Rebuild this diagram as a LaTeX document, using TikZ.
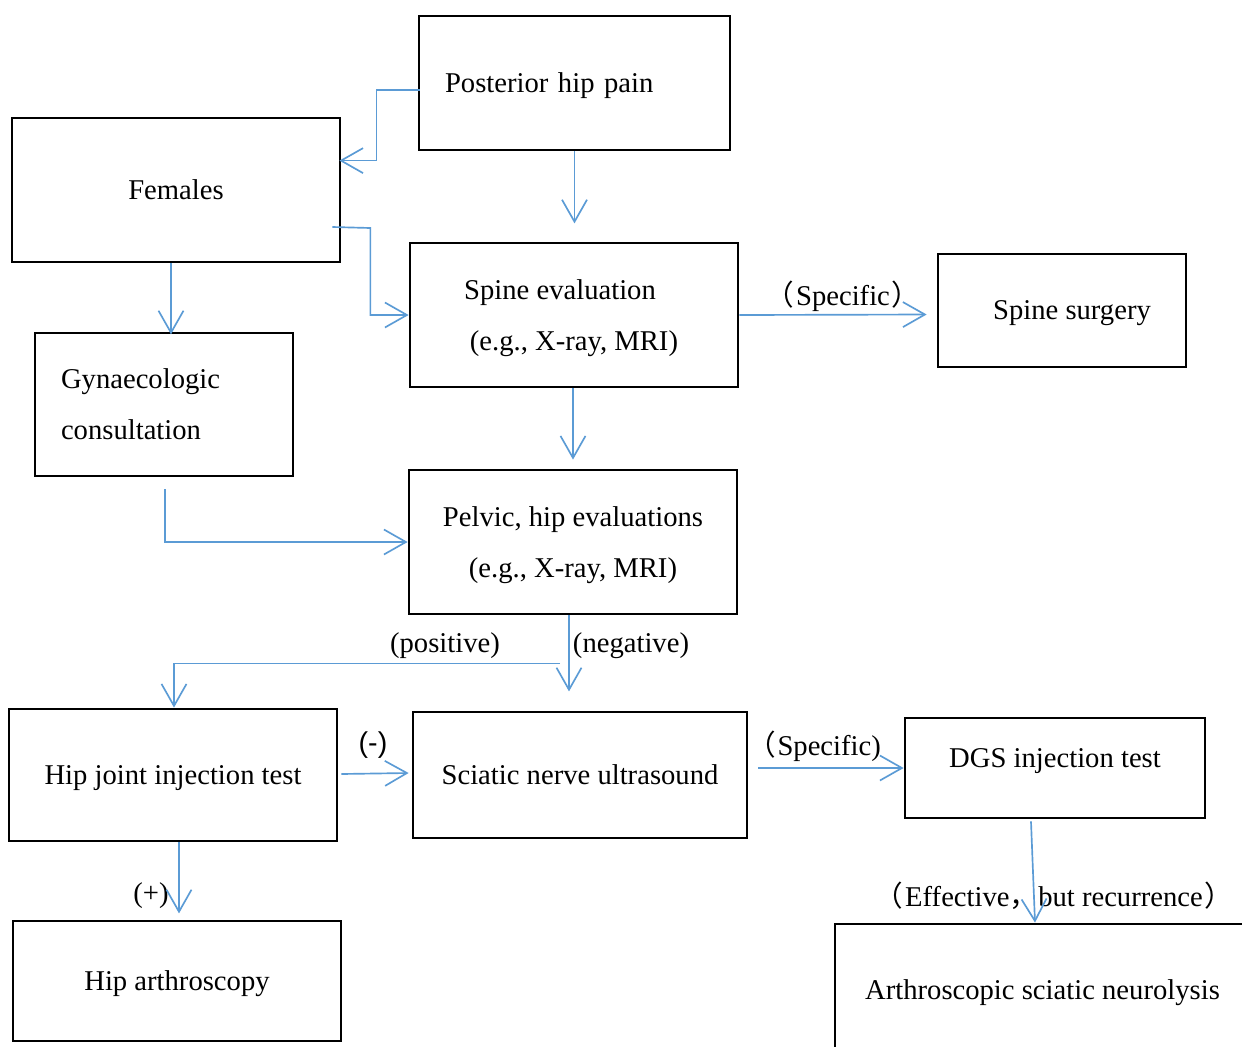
\documentclass[tikz,border=0pt]{standalone}
\usepackage{fontspec}
\setmainfont{Liberation Serif}
\setsansfont{Liberation Sans}
\newfontfamily\cjk{Noto Sans CJK SC}
\usepackage{tikz}
\usetikzlibrary{arrows.meta,positioning,calc}
\definecolor{flowblue}{RGB}{91,155,213}
\newcommand{\fwl}{{\cjk （}\kern1pt}
\newcommand{\fwr}{\kern1pt{\cjk ）}}
\newcommand{\fwc}{{\cjk ，}}

\begin{document}
\begin{tikzpicture}[x=0.02cm, y=-0.02cm, font=\fontsize{16.3}{29}\selectfont,
    box/.style={rectangle, draw=black, line width=1.6pt, inner sep=0pt, align=center, text depth=0pt},
    flow/.style={draw=flowblue, line width=0.95pt, -{Straight Barb[length=0.44cm,width=0.5cm,line width=0.95pt]}},
    lbl/.style={inner sep=0pt}]
        \useasboundingbox (0,0) rectangle (1242,1046);
        \clip (0,0) rectangle (1242,1046);

        % boxes
        \node[box, minimum width=6.22cm, minimum height=2.68cm, text width=5.18cm, inner xsep=0.52cm, align=left] (post) at (574.5,83) {Posterior hip pain};
        \node[box, minimum width=6.56cm, minimum height=2.88cm] (females) at (176,190) {Females};
        \node[box, minimum width=6.56cm, minimum height=2.88cm] (spine) at (574,315) {Spine evaluation\hspace*{0.56cm}\\(e.g., X-ray, MRI)};
        \node[box, minimum width=4.96cm, minimum height=2.26cm] (surgery) at (1062,310.5) {\hspace{0.4cm}Spine surgery};
        \node[box, text depth={}, minimum width=5.16cm, minimum height=2.86cm, text width=4.12cm, inner xsep=0.52cm, align=left] (gyn) at (164,404.5) {Gynaecologic\\consultation};
        \node[box, minimum width=6.56cm, minimum height=2.88cm] (pelvic) at (573,542) {Pelvic, hip evaluations\\(e.g., X-ray, MRI)};
        \node[box, minimum width=6.56cm, minimum height=2.64cm] (hipinj) at (173,775) {Hip joint injection test};
        \node[box, minimum width=6.68cm, minimum height=2.52cm] (sciatic) at (580,775) {Sciatic nerve ultrasound};
        \node[box, minimum width=6.0cm, minimum height=2.0cm] (dgs) at (1055,768) {\raisebox{0.4cm}{DGS injection test}};
        \node[box, minimum width=6.56cm, minimum height=2.4cm] (arthro) at (177,981) {Hip arthroscopy};
        \node[box, minimum width=8.3cm, minimum height=2.72cm] (neuro) at (1042.5,992) {\raisebox{0.08cm}{Arthroscopic sciatic neurolysis}};

        % labels
        \node[lbl] (specA) at (843,296) {\fwl Specific\fwr};
        \node[lbl] (specB) at (814,746) {\fwl Specific)};
        \node[lbl] (pos) at (445,646) {(positive)};
        \node[lbl] (neg) at (631,646) {(negative)};
        \node[lbl, font=\sffamily\fontsize{16.3}{29}\selectfont] (minus) at (373,745) {(-)};
        \node[lbl] (plus) at (151,896) {(+)};
        \node[lbl] (eff) at (1054,896) {\fwl Effective\fwc but recurrence\fwr};

        \coordinate (split) at ($(pelvic.south)+(-13,48)$);

        % connectors
        \draw[flow] ($(post.west)+(2,7)$) -- ++(-43,0) |- ($(females.north east)+(-2,44)$);
        \draw[flow] (post.south) -- ++(0,72);
        \draw[flow] ($(females.east)+(-9,37)$) -- ++(38,1) |- (spine.west);
        \draw[flow] ($(females.south)+(-5,0)$) -- ++(0,71);
        \draw[flow] (spine.east) -- ($(surgery.west)+(-10,4)$);
        \draw[flow] ($(spine.south)+(-1,0)$) -- ($(pelvic.north)+(0,-9)$);
        \draw[flow] ($(gyn.south)+(1,12)$) |- (pelvic.west);
        \draw[flow] ($(pelvic.south)+(-4,0)$) -- ++(0,76);
        \draw[flow] (split) -| ($(hipinj.north)+(1,0)$);
        \draw[flow] ($(hipinj.east)+(3,-1)$) -- ($(sciatic.west)+(-3,-2)$);
        \draw[flow] ($(sciatic.east)+(10,-7)$) -- (dgs.west);
        \draw[flow] ($(hipinj.south)+(6,0)$) -- ++(0,71);
        \draw[flow] ($(dgs.south)+(-24,2)$) -- ($(neuro.north)+(-7.5,0)$);
\end{tikzpicture}
\end{document}
